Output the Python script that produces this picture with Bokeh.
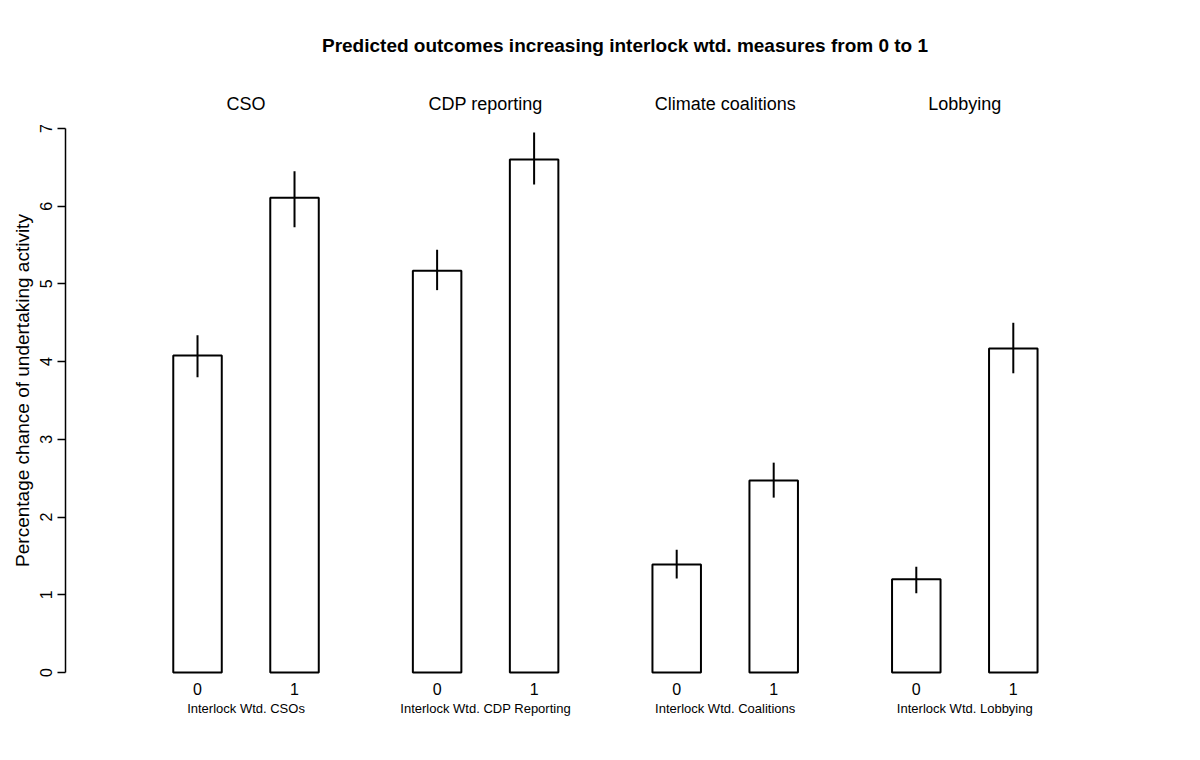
from bokeh.plotting import figure
from bokeh.embed import file_html
from bokeh.resources import INLINE
from bokeh.models import ColumnDataSource, FixedTicker
from bokeh.core.properties import value

groups = ["CSO", "CDP reporting", "Climate coalitions", "Lobbying"]
sublabels = ["Interlock Wtd. CSOs", "Interlock Wtd. CDP Reporting", "Interlock Wtd. Coalitions", "Interlock Wtd. Lobbying"]
levels = ["0", "1"]
means = [4.08, 6.11, 5.17, 6.60, 1.39, 2.47, 1.20, 4.17]
upper = [4.34, 6.45, 5.44, 6.95, 1.58, 2.70, 1.36, 4.50]
lower = [3.80, 5.73, 4.92, 6.28, 1.21, 2.25, 1.02, 3.85]

GAP = 2.47
xs = [g * GAP + j for g in range(len(groups)) for j in range(2)]
src = ColumnDataSource(dict(x=xs, top=means, up=upper, lo=lower,
                            lab=[levels[j] for g in range(4) for j in range(2)]))
gx = [g * GAP + 0.5 for g in range(4)]

p = figure(width=1184, height=744, output_backend="svg", toolbar_location=None,
           x_range=(-1.361, 10.175), y_range=(-0.618, 7.875),
           min_border_left=65, min_border_right=0, min_border_top=60, min_border_bottom=24)
p.title.text = "Predicted outcomes increasing interlock wtd. measures from 0 to 1"
p.title.align = "center"
p.title.text_font = "Liberation Sans"
p.title.text_font_size = "19px"
p.title.text_font_style = "bold"
p.title.text_color = "black"
p.outline_line_color = None
p.grid.visible = False
p.xaxis.visible = False
ya = p.yaxis[0]
ya.bounds = (0, 7)
ya.ticker = FixedTicker(ticks=list(range(8)))
ya.minor_tick_line_color = None
ya.major_tick_in = 0
ya.major_tick_out = 8
ya.axis_line_width = 1.5
ya.major_tick_line_width = 1.5
ya.major_label_orientation = "vertical"
ya.major_label_text_font = "Liberation Sans"
ya.major_label_text_font_size = "16px"
ya.major_label_text_color = "black"
ya.axis_label = "Percentage chance of undertaking activity"
ya.axis_label_text_font = "Liberation Sans"
ya.axis_label_text_font_size = "19px"
ya.axis_label_text_font_style = "normal"
ya.axis_label_text_color = "black"

p.vbar(x="x", top="top", bottom=0, width=0.5, source=src, fill_color="white",
       line_color="black", line_width=2)
p.segment(x0="x", x1="x", y0="lo", y1="up", source=src, line_color="black", line_width=2)
p.text(x="x", y=-0.21, text="lab", source=src, text_align="center", text_baseline="middle",
       text_font=value("Liberation Sans"), text_font_size="16px")
p.text(x=gx, y=[-0.47] * 4, text=sublabels, text_align="center", text_baseline="middle",
       text_font=value("Liberation Sans"), text_font_size="13px")
p.text(x=gx, y=[7.32] * 4, text=groups, text_align="center", text_baseline="middle",
       text_font=value("Liberation Sans"), text_font_size="18px")

open("out.html", "w").write(file_html(p, INLINE))
